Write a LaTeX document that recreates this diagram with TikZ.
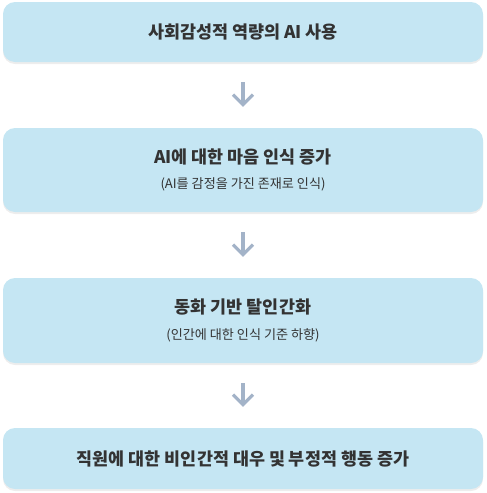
\documentclass[tikz,border=0pt]{standalone}
\usepackage{fontspec}
\newfontfamily\krfont{Noto Sans CJK KR}
\usetikzlibrary{arrows.meta,shadows}
\definecolor{boxblue}{HTML}{C5E6F3}
\definecolor{textgray}{HTML}{333333}
\definecolor{arrowgray}{HTML}{A3B3C8}
\newcommand{\titletext}{\fontsize{17.4}{20}\selectfont\bfseries}
\newcommand{\subtext}{\fontsize{13.1}{16}\selectfont}

\begin{document}
\begin{tikzpicture}[x=1pt,y=-1pt,
    stepbox/.style={fill=boxblue, rounded corners=12pt, minimum width=480pt,
      inner sep=0pt, align=center, text=textgray, font=\krfont,
      drop shadow={shadow xshift=0pt, shadow yshift=-2pt, opacity=0.07, fill=black}},
    flow/.style={draw=arrowgray, line width=3.2pt,
      -{Straight Barb[length=10pt,width=20pt]}, shorten <=20pt, shorten >=21pt}]
        \useasboundingbox (0,0) rectangle (487,493);

        \node[stepbox, minimum height=60pt] (use) at (243,32)
            {\titletext 사회감성적 역량의 AI 사용};

        \node[stepbox, minimum height=84pt] (mind) at (243,170)
            {{\titletext AI에 대한 마음 인식 증가}\\[12pt]
             {\subtext (AI를 감정을 가진 존재로 인식)}};

        \node[stepbox, minimum height=85pt] (dehum) at (243,320.5)
            {{\titletext 동화 기반 탈인간화}\\[12pt]
             {\subtext (인간에 대한 인식 기준 하향)}};

        \node[stepbox, minimum height=61pt] (treat) at (243,458.5)
            {\titletext 직원에 대한 비인간적 대우 및 부정적 행동 증가};

        \draw[flow] (use.south) -- (mind.north);
        \draw[flow] (mind.south) -- (dehum.north);
        \draw[flow] (dehum.south) -- (treat.north);

    \end{tikzpicture}
\end{document}
